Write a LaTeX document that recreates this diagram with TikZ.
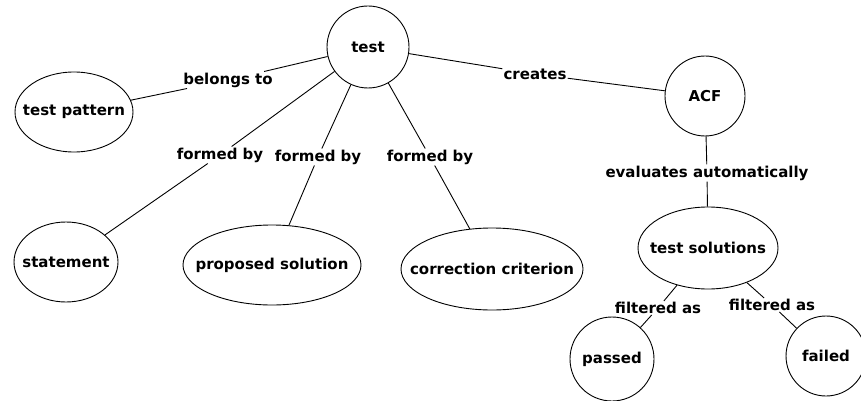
\documentclass[tikz,border=0pt]{standalone}
\usepackage{fontspec}
\setmainfont{DejaVu Sans}
\usetikzlibrary{shapes.geometric}

\begin{document}
\begin{tikzpicture}[
    x=1pt, y=-1pt,
    font=\bfseries\fontsize{15}{18}\selectfont,
    concept/.style={circle, draw=black, line width=0.9pt, minimum size=#1, inner sep=0pt},
    oval/.style={ellipse, draw=black, line width=0.9pt, minimum width=#1, minimum height=80pt, inner sep=0pt},
    relation/.style={inner sep=1pt},
    link/.style={line width=0.9pt}
]
    \useasboundingbox (0,0) rectangle (861,401);

    \node[concept=82pt] (test) at (368,47) {test};
    \node[concept=80pt] (acf) at (705,96) {ACF};
    \node[oval=118pt, label=center:test pattern] (tpattern) at (74,112) {};
    \node[oval=104pt, label=center:statement] (statement) at (66,262) {};
    \node[oval=178pt, label=center:proposed solution] (propsol) at (272,265) {};
    \node[oval=182pt, minimum height=82pt, label=center:correction criterion] (corrcrit) at (492,269) {};
    \node[oval=140pt, minimum height=82pt, label=center:test solutions] (testsol) at (708,248) {};
    \node[concept=84pt] (passed) at (612,359) {passed};
    \node[concept=80pt] (failed) at (826,356) {failed};

    \node[relation] (belongs) at (228,80) {belongs to};
    \node[relation] (formedA) at (220,155) {formed by};
    \node[relation] (formedB) at (318,157) {formed by};
    \node[relation] (formedC) at (430,157) {formed by};
    \node[relation] (creates) at (535,74) {creates};
    \node[relation] (evaluates) at (707,173) {evaluates automatically};
    \node[relation] (filteredA) at (658,308) {filtered as};
    \node[relation] (filteredB) at (772,305) {filtered as};

    \draw[link] (tpattern) -- (belongs) -- (test);
    \draw[link] (test) -- (formedA) -- (statement);
    \draw[link] (test) -- (formedB) -- (propsol);
    \draw[link] (test) -- (formedC) -- (corrcrit);
    \draw[link] (test) -- (creates) -- (acf);
    \draw[link] (acf) -- (evaluates) -- (testsol);
    \draw[link] (testsol) -- (filteredA) -- (passed);
    \draw[link] (testsol) -- (filteredB) -- (failed);
\end{tikzpicture}
\end{document}
